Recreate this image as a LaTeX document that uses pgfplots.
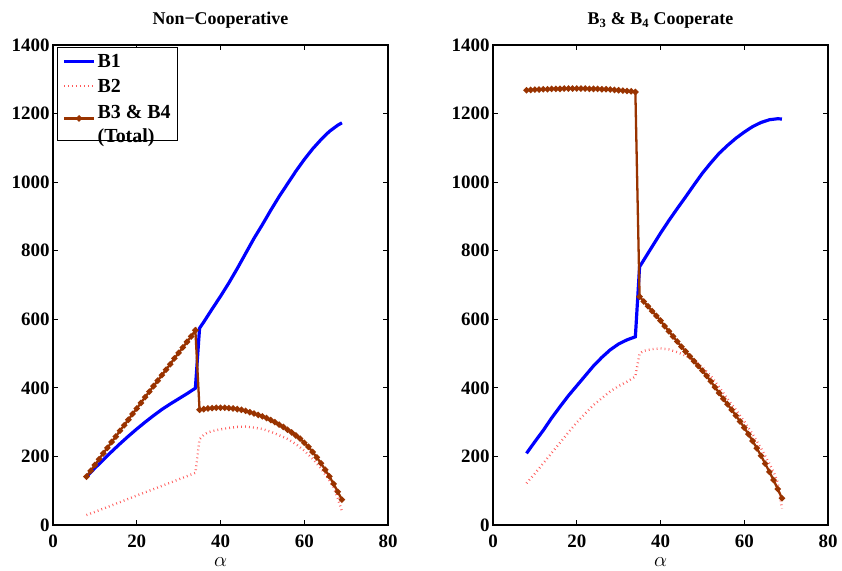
\documentclass[border=0pt]{standalone}
\usepackage{fontspec}
\setmainfont{Liberation Serif}
\usepackage{pgfplots}
\pgfplotsset{compat=1.18}
\definecolor{bblue}{rgb}{0,0,1}
\definecolor{bred}{rgb}{1,0.35,0.35}
\definecolor{bbrown}{rgb}{0.6,0.2,0}
\pgfplotsset{
 myaxis/.style={
  scale only axis, width=335bp, height=480bp,
  xmin=0,xmax=80,ymin=0,ymax=1400,
  xtick={0,20,...,80}, ytick={0,200,...,1400},
  tick align=inside, tick pos=both, major tick length=5bp,
  axis line style={line width=1.1pt},
  every tick/.style={black,line width=0.8pt},
  ticklabel style={font=\fontsize{19}{21}\selectfont\bfseries},
  xticklabel style={yshift=-6bp},
  /pgf/number format/assume math mode=true,
  /pgf/number format/1000 sep={},
  xlabel={$\alpha$}, xlabel style={font=\fontsize{20}{22}\selectfont, yshift=-3bp},
  title style={font=\fontsize{18}{20}\selectfont\bfseries, yshift=7bp},
 },
 b1/.style={bblue, line width=3.2pt},
 b2/.style={bred, line width=2.4pt, dash pattern=on 0.8pt off 3.2pt},
 b3/.style={bbrown, line width=2.3pt, mark=*, mark size=1.8pt, mark options={solid, fill=bbrown, draw=bbrown}},
}
\begin{document}
\begin{tikzpicture}
\useasboundingbox (-53bp,-46bp) rectangle (789bp,525bp);
\begin{axis}[myaxis, title={Non−Cooperative},
  legend style={at={(rel axis cs:0.012,0.996)}, anchor=north west, draw=black, line width=0.8pt, fill=white,
    font=\fontsize{20}{22}\selectfont\bfseries, row sep=6bp, inner xsep=5bp, inner ysep=5bp},
  legend cell align=left,
  legend image code/.code={\draw[mark repeat=2,mark phase=2,#1] plot coordinates {(0cm,0cm) (0.53cm,0cm) (1.06cm,0cm)};}]
\addplot[b1] coordinates {(8,141)(10,166)(12,190)(14,214)(16,237)(18,259)(20,280)(22,300)(24,319)(26,337)(28,353)(30,368)(32,383)(34,399)(35,574)(36,592)(37,611)(38,630)(40,667)(42,706)(44,748)(46,792)(48,836)(50,876)(52,918)(54,958)(56,995)(58,1032)(60,1066)(62,1097)(64,1124)(66,1148)(68,1166)(69,1173)};
\addlegendentry{B1}
\addplot[b2] coordinates {(8,29)(14,57)(20,86)(26,114)(34,152)(35,250)(36,263)(37,270)(38,274)(40,279)(42,283)(44,286)(46,287)(48,284)(50,280)(52,272)(54,262)(56,251)(58,236)(60,217)(62,193)(64,165)(66,130)(67,110)(68,78)(69,40)};
\addlegendentry{B2}
\addplot[b3] coordinates {(8,141)(9,158)(10,175)(11,192)(12,209)(13,225)(14,242)(15,258)(16,275)(17,291)(18,307)(19,324)(20,340)(21,356)(22,373)(23,389)(24,405)(25,421)(26,437)(27,453)(28,469)(29,486)(30,502)(31,518)(32,534)(33,550)(34,568)
(35,336)(36,338)(37,340)(38,341)(39,342)(40,342)(41,342)(42,341)(43,340)(44,338)(45,336)(46,333)(47,329)(48,325)(49,321)(50,317)(51,312)(52,306)(53,300)(54,293)(55,286)(56,278)(57,270)(58,261)(59,252)(60,240)(61,228)(62,213)(63,197)(64,180)(65,161)(66,142)(67,120)(68,97)(69,74)};
\addlegendentry{\begin{tabular}{@{}l@{}}B3 \& B4\\[2pt](Total)\end{tabular}}
\end{axis}
\begin{axis}[myaxis, at={(440bp,0)}, title={B\textsubscript{3} \& B\textsubscript{4} Cooperate}]
\addplot[b1] coordinates {(8,209)(10,243)(12,276)(14,312)(16,345)(18,377)(20,406)(22,435)(24,464)(26,489)(28,511)(30,528)(32,540)(34,549)(35,753)(38,812)(40,851)(42,888)(44,923)(46,957)(48,992)(50,1026)(52,1056)(54,1084)(56,1107)(58,1128)(60,1146)(62,1162)(64,1174)(66,1182)(68,1185)(69,1184)};
\addplot[b2] coordinates {(8,122)(10,150)(12,180)(14,210)(16,240)(18,270)(20,299)(22,325)(24,350)(26,370)(28,390)(30,405)(32,418)(34,433)(35,500)(36,508)(38,513)(40,515)(42,512)(44,504)(46,494)(48,480)(50,460)(52,435)(54,402)(56,368)(58,336)(60,302)(62,265)(64,224)(66,179)(67,155)(68,125)(69,48)};
\addplot[b3] coordinates {(8,1268)(9,1269)(10,1270)(11,1270)(12,1271)(13,1271)(14,1272)(15,1272)(16,1272)(17,1273)(18,1273)(19,1273)(20,1273)(21,1273)(22,1273)(23,1272)(24,1272)(25,1272)(26,1271)(27,1271)(28,1270)(29,1269)(30,1268)(31,1267)(32,1266)(33,1265)(34,1263)
(35,666)(36,652)(37,638)(38,624)(39,610)(40,596)(41,580)(42,565)(43,550)(44,535)(45,520)(46,506)(47,492)(48,478)(49,464)(50,450)(51,435)(52,419)(53,402)(54,385)(55,368)(56,352)(57,336)(58,319)(59,302)(60,284)(61,265)(62,245)(63,224)(64,202)(65,179)(66,155)(67,131)(68,105)(69,78)};
\end{axis}
\end{tikzpicture}
\end{document}
